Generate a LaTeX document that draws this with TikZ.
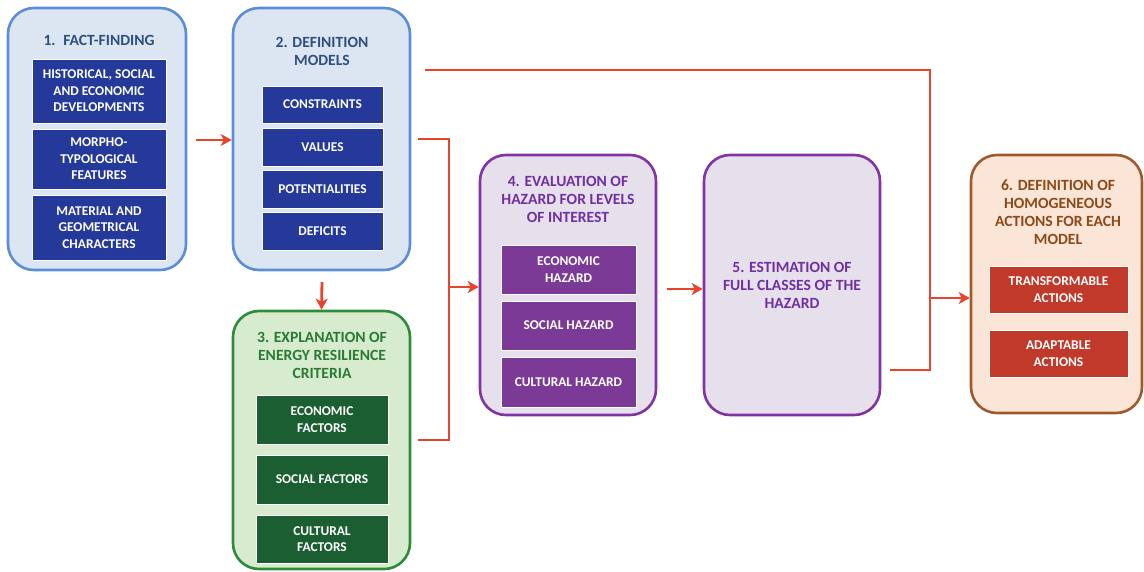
\documentclass[tikz,border=0pt]{standalone}
\usepackage{fontspec}
\setmainfont{Carlito}
\usetikzlibrary{arrows.meta,calc}
\definecolor{bfill}{HTML}{DCE6F2}
\definecolor{bline}{HTML}{5B8ED6}
\definecolor{binner}{HTML}{25399A}
\definecolor{btext}{HTML}{2F4F7F}
\definecolor{gfill}{HTML}{D7EBCF}
\definecolor{gline}{HTML}{2E8B3A}
\definecolor{ginner}{HTML}{1B5E31}
\definecolor{gtext}{HTML}{2A7A35}
\definecolor{pfill}{HTML}{E6E0EC}
\definecolor{pline}{HTML}{8233A3}
\definecolor{pinner}{HTML}{7B3A96}
\definecolor{ptext}{HTML}{7030A0}
\definecolor{ofill}{HTML}{FBE5D6}
\definecolor{oline}{HTML}{9C5A2E}
\definecolor{oinner}{HTML}{C0392B}
\definecolor{otext}{HTML}{8B4A1A}
\definecolor{redl}{HTML}{E8432D}
\tikzset{
  big/.style={draw, line width=2.6pt, rounded corners=26pt, inner sep=0pt},
  title/.style={font=\fontsize{15.6}{18}\selectfont\bfseries, align=center, inner sep=0pt},
  inner/.style={inner sep=0pt, text=white, align=center, font=\fontsize{13.4}{16.5}\selectfont\bfseries, draw=white, line width=0.6pt},
  redline/.style={draw=redl, line width=2.8pt},
  arr/.style={redline, -{Stealth[length=11pt,width=12pt,inset=3pt]}},
}
\begin{document}
\begin{tikzpicture}[x=1pt,y=-1pt]
\useasboundingbox (0,0) rectangle (1144,571);
% ---- box 1
\node[big, draw=bline, fill=bfill, minimum width=178pt, minimum height=262pt] (b1) at (97,139) {};
\node[title, text=btext] (t1) at (99,40) {1.\enspace FACT-FINDING};
\node[inner, fill=binner, minimum width=134pt, minimum height=64pt] (i11) at (99,91) {HISTORICAL, SOCIAL\\AND ECONOMIC\\DEVELOPMENTS};
\node[inner, fill=binner, minimum width=134pt, minimum height=60pt] (i12) at (99,159) {MORPHO-\\TYPOLOGICAL\\FEATURES};
\node[inner, fill=binner, minimum width=134pt, minimum height=65pt] (i13) at (99,227.5) {MATERIAL AND\\GEOMETRICAL\\CHARACTERS};
% ---- box 2
\node[big, draw=bline, fill=bfill, minimum width=177pt, minimum height=262pt] (b2) at (321.5,139) {};
\node[title, text=btext] (t2) at (322,51) {2. DEFINITION\\MODELS};
\node[inner, fill=binner, minimum width=121pt, minimum height=37pt] (i21) at (322.5,104.5) {CONSTRAINTS};
\node[inner, fill=binner, minimum width=121pt, minimum height=38pt] (i22) at (322.5,147) {VALUES};
\node[inner, fill=binner, minimum width=121pt, minimum height=38pt] (i23) at (322.5,189) {POTENTIALITIES};
\node[inner, fill=binner, minimum width=121pt, minimum height=38pt] (i24) at (322.5,231) {DEFICITS};
% ---- box 3
\node[big, draw=gline, fill=gfill, minimum width=177pt, minimum height=258pt] (b3) at (321.5,440) {};
\node[title, text=gtext] (t3) at (322,355) {3. EXPLANATION OF\\ENERGY RESILIENCE\\CRITERIA};
\node[inner, fill=ginner, minimum width=132pt, minimum height=49pt] (i31) at (322,419.5) {ECONOMIC\\FACTORS};
\node[inner, fill=ginner, minimum width=132pt, minimum height=49pt] (i32) at (322,479.5) {SOCIAL FACTORS};
\node[inner, fill=ginner, minimum width=132pt, minimum height=48pt] (i33) at (322,539) {CULTURAL\\FACTORS};
% ---- box 4
\node[big, draw=pline, fill=pfill, minimum width=176pt, minimum height=260pt] (b4) at (568,285) {};
\node[title, text=ptext] (t4) at (568,199) {4. EVALUATION OF\\HAZARD FOR LEVELS\\OF INTEREST};
\node[inner, fill=pinner, minimum width=135pt, minimum height=49pt] (i41) at (568.5,269.5) {ECONOMIC\\HAZARD};
\node[inner, fill=pinner, minimum width=135pt, minimum height=49pt] (i42) at (568.5,325.5) {SOCIAL HAZARD};
\node[inner, fill=pinner, minimum width=135pt, minimum height=50pt] (i43) at (568.5,382) {CULTURAL HAZARD};
% ---- box 5
\node[big, draw=pline, fill=pfill, minimum width=176pt, minimum height=260pt] (b5) at (792,285) {};
\node[title, text=ptext] (t5) at (792,285) {5. ESTIMATION OF\\FULL CLASSES OF THE\\HAZARD};
% ---- box 6
\node[big, draw=oline, fill=ofill, minimum width=171pt, minimum height=258pt] (b6) at (1056.5,284) {};
\node[title, text=otext] (t6) at (1058,212) {6. DEFINITION OF\\HOMOGENEOUS\\ACTIONS FOR EACH\\MODEL};
\node[inner, fill=oinner, minimum width=139pt, minimum height=47pt] (i61) at (1058.5,289.5) {TRANSFORMABLE\\ACTIONS};
\node[inner, fill=oinner, minimum width=139pt, minimum height=47pt] (i62) at (1058.5,353.5) {ADAPTABLE\\ACTIONS};
% ---- connectors
\coordinate (a1) at (196,140);
\draw[arr] (a1) -- (a1 -| b2.west);
\coordinate (a2) at (322,282);
\draw[arr] (a2) -- (b3.north);
\coordinate (c1) at (425,70);
\coordinate (c2) at (930,70);
\coordinate (c3) at (930,370);
\coordinate (c4) at (890,370);
\draw[redline] (c1) -- (c2) -- (c3) -- (c4);
\coordinate (j6) at (930,298);
\draw[arr] (j6) -- (j6 -| b6.west);
\coordinate (d1) at (418,139);
\coordinate (d2) at (449,139);
\coordinate (d3) at (449,440);
\coordinate (d4) at (418,440);
\draw[redline] (d1) -- (d2) -- (d3) -- (d4);
\coordinate (j4) at (449,287);
\draw[arr] (j4) -- (j4 -| b4.west);
\coordinate (e1) at (667,289);
\draw[arr] (e1) -- (e1 -| b5.west);
\end{tikzpicture}
\end{document}
